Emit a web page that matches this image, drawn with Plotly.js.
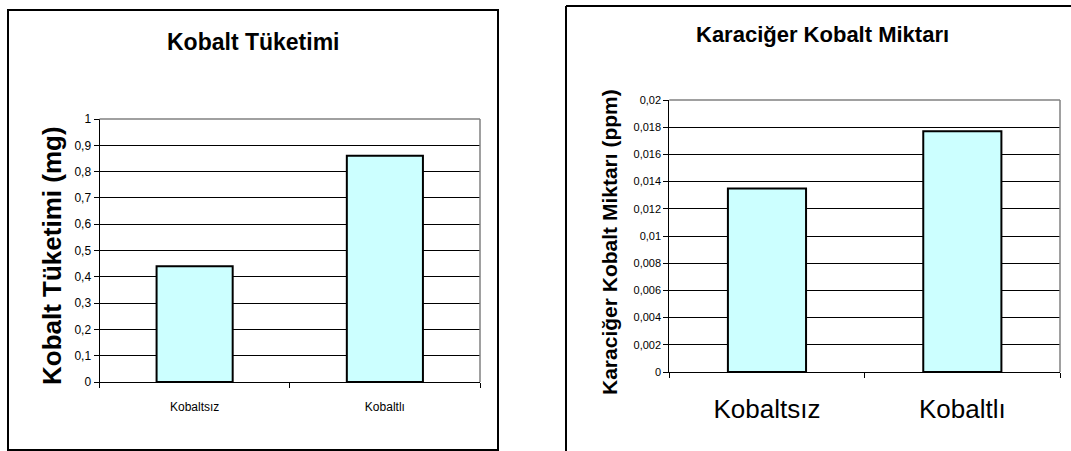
<!DOCTYPE html>
<html>
<head>
<meta charset="utf-8">
<script src="https://cdn.plot.ly/plotly-3.0.1.min.js"></script>
<style>
  html, body { margin: 0; padding: 0; background: #ffffff; }
  #chart { width: 1071px; height: 451px; }
</style>
</head>
<body>
<div id="chart"></div>
<script>
// ---- Data ----
const categories = ["Kobaltsız", "Kobaltlı"];
const consumptionMg = [0.44, 0.86];
const liverCobaltPpm = [0.0135, 0.0177];

const leftTickVals = [0, 0.1, 0.2, 0.3, 0.4, 0.5, 0.6, 0.7, 0.8, 0.9, 1];
const leftTickText = ["0", "0,1", "0,2", "0,3", "0,4", "0,5", "0,6", "0,7", "0,8", "0,9", "1"];
const rightTickVals = [0, 0.002, 0.004, 0.006, 0.008, 0.01, 0.012, 0.014, 0.016, 0.018, 0.02];
const rightTickText = ["0", "0,002", "0,004", "0,006", "0,008", "0,01", "0,012", "0,014", "0,016", "0,018", "0,02"];

const leftTitle = "Kobalt Tüketimi";
const leftYTitle = "Kobalt Tüketimi (mg)";
const rightTitle = "Karaciğer Kobalt Miktarı";
const rightYTitle = "Karaciğer Kobalt Miktarı (ppm)";

// ---- Helpers (pixel -> paper) ----
const W = 1071, H = 451;
const px = v => v / W;
const py = v => 1 - v / H;

const FONT = "Liberation Sans, Arial, sans-serif";
const barStyle = { color: "#CCFFFF", line: { color: "#000000", width: 2 } };

const traces = [
  { type: "bar", x: categories, y: consumptionMg, xaxis: "x", yaxis: "y",
    marker: barStyle, hoverinfo: "x+y", showlegend: false },
  { type: "bar", x: categories, y: liverCobaltPpm, xaxis: "x2", yaxis: "y2",
    marker: barStyle, hoverinfo: "x+y", showlegend: false }
];

const yBase = {
  showgrid: true, gridcolor: "#000000", gridwidth: 1,
  zeroline: false, showline: true, linecolor: "#000000", linewidth: 1,
  ticks: "outside", ticklen: 5, tickcolor: "#000000", tickwidth: 1,
  tickmode: "array", fixedrange: true
};
const xBase = {
  type: "category", showgrid: false, zeroline: false,
  showline: true, linecolor: "#000000", linewidth: 1,
  ticks: "outside", tickson: "boundaries", ticklen: 5, tickcolor: "#000000", tickwidth: 1,
  fixedrange: true
};

const layout = {
  width: W, height: H,
  margin: { l: 0, r: 0, t: 0, b: 0 },
  paper_bgcolor: "#ffffff", plot_bgcolor: "#ffffff",
  bargap: 0.6,
  showlegend: false,
  separators: ",.",
  font: { family: FONT, color: "#000000" },
  xaxis: Object.assign({}, xBase, {
    domain: [px(99.5), px(480)], anchor: "y",
    tickfont: { family: FONT, size: 12, color: "#000" },
    ticklabelstandoff: 14
  }),
  yaxis: Object.assign({}, yBase, {
    domain: [py(382), py(119)], anchor: "x",
    range: [0, 1], tickvals: leftTickVals, ticktext: leftTickText,
    tickfont: { family: FONT, size: 12, color: "#000" }
  }),
  xaxis2: Object.assign({}, xBase, {
    domain: [px(669.3), px(1060)], anchor: "y2",
    tickfont: { family: FONT, size: 26, color: "#000" },
    ticklabelstandoff: 14
  }),
  yaxis2: Object.assign({}, yBase, {
    domain: [py(372), py(100)], anchor: "x2",
    range: [0, 0.02], tickvals: rightTickVals, ticktext: rightTickText,
    tickfont: { family: FONT, size: 11, color: "#000" }
  }),
  annotations: [
    { text: "<b>" + leftTitle + "</b>", xref: "paper", yref: "paper",
      x: px(253), y: py(42), xanchor: "center", yanchor: "middle", showarrow: false,
      font: { family: FONT, size: 23, color: "#000" } },
    { text: "<b>" + leftYTitle + "</b>", xref: "paper", yref: "paper",
      x: px(52), y: py(256), xanchor: "center", yanchor: "middle", showarrow: false,
      textangle: -90, font: { family: FONT, size: 26, color: "#000" } },
    { text: "<b>" + rightTitle + "</b>", xref: "paper", yref: "paper",
      x: px(822), y: py(34), xanchor: "center", yanchor: "middle", showarrow: false,
      font: { family: FONT, size: 22, color: "#000" } },
    { text: "<b>" + rightYTitle + "</b>", xref: "paper", yref: "paper",
      x: px(609), y: py(242), xanchor: "center", yanchor: "middle", showarrow: false,
      textangle: -90, font: { family: FONT, size: 21, color: "#000" } }
  ],
  shapes: [
    // outer frame of left chart
    { type: "rect", xref: "paper", yref: "paper", x0: px(8), x1: px(498), y0: py(450), y1: py(10),
      line: { color: "#000000", width: 2 }, fillcolor: "rgba(0,0,0,0)", layer: "above" },
    // outer frame of right chart (left and top edges visible)
    { type: "line", xref: "paper", yref: "paper", x0: px(566), x1: px(566), y0: 0, y1: py(6),
      line: { color: "#000000", width: 2 }, layer: "above" },
    { type: "line", xref: "paper", yref: "paper", x0: px(566), x1: 1, y0: py(6), y1: py(6),
      line: { color: "#000000", width: 2 }, layer: "above" },
    // gray plot-area border (top and right) for both plots
    { type: "line", xref: "x domain", yref: "y domain", x0: 0, x1: 1, y0: 1, y1: 1,
      line: { color: "#808080", width: 1.5 }, layer: "above" },
    { type: "line", xref: "x domain", yref: "y domain", x0: 1, x1: 1, y0: 0, y1: 1,
      line: { color: "#808080", width: 1.5 }, layer: "above" },
    { type: "line", xref: "x2 domain", yref: "y2 domain", x0: 0, x1: 1, y0: 1, y1: 1,
      line: { color: "#808080", width: 1.5 }, layer: "above" },
    { type: "line", xref: "x2 domain", yref: "y2 domain", x0: 1, x1: 1, y0: 0, y1: 1,
      line: { color: "#808080", width: 1.5 }, layer: "above" }
  ]
};

Plotly.newPlot("chart", traces, layout, { displayModeBar: false, staticPlot: true });
</script>
</body>
</html>
